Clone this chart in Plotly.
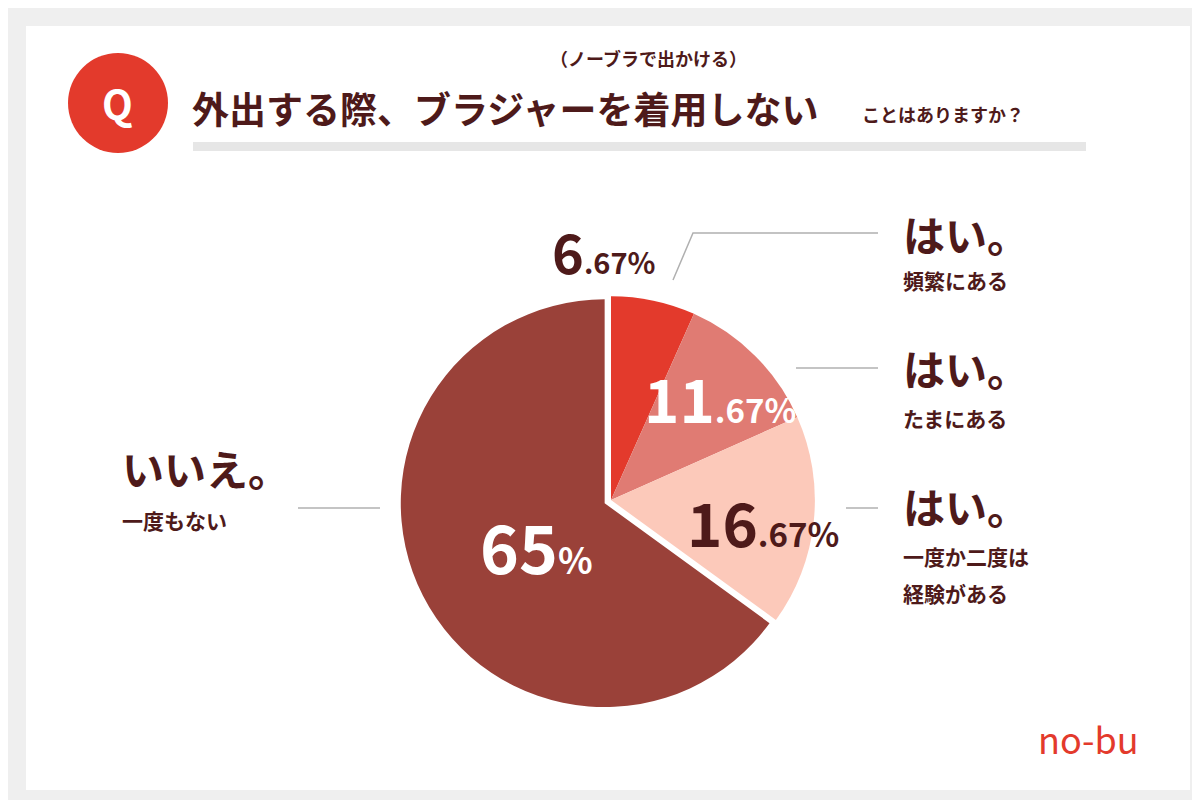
import plotly.graph_objects as go

labels = ["はい。頻繁にある", "はい。たまにある", "はい。一度か二度は経験がある", "いいえ。一度もない"]
values = [6.67, 11.67, 16.67, 65]
colors = ["#E33A2C", "#E07B73", "#FCC9BA", "#9A4139"]

F = "Noto Sans CJK JP"
DARK = "#4E1A1A"
fig = go.Figure(go.Pie(
    labels=labels, values=values, sort=False, direction="clockwise", rotation=0,
    marker=dict(colors=colors, line=dict(color="white", width=0)),
    pull=[0, 0, 0, 0.035], textinfo="none", hoverinfo="label+value",
    domain=dict(x=[(603-211)/1200, (603+211)/1200], y=[1-(492+211)/800, 1-(492-211)/800]),
    showlegend=False))

shapes = [
    dict(type="rect", xref="paper", yref="paper", x0=18/1200, x1=1182/1200, y0=1-782/800, y1=1-18/800,
         fillcolor="white", line=dict(width=0), layer="below"),
    dict(type="circle", xref="paper", yref="paper", x0=60/1200, x1=160/1200, y0=1-145/800, y1=1-45/800,
         fillcolor="#E33A2C", line=dict(width=0)),
    dict(type="rect", xref="paper", yref="paper", x0=185/1200, x1=1078/1200, y0=1-143/800, y1=1-134/800,
         fillcolor="#E6E6E6", line=dict(width=0)),
]
def L(pts):
    path = "M " + " L ".join(f"{x/1200},{1-y/800}" for x, y in pts)
    return dict(type="path", xref="paper", yref="paper", path=path, line=dict(color="#B0B0B0", width=1.5))
shapes += [L([(665, 272), (685, 225), (870, 225)]), L([(788, 360), (870, 360)]),
           L([(838, 500), (870, 500)]), L([(290, 500), (372, 500)])]

anns = []
def A(x, y, t, size, color=DARK, xa="left"):
    anns.append(dict(x=x/1200, y=1-y/800, xref="paper", yref="paper", text=t, showarrow=False,
                     xanchor=xa, yanchor="middle", font=dict(family=F, size=size, color=color)))
A(110, 95, "<b>Q</b>", 40, "white", "center")
A(182, 100, "<b>外出する際、ブラジャーを着用しない</b>", 37)
A(852, 106, "<b>ことはありますか？</b>", 18)
A(640, 50, "<b>（ノーブラで出かける）</b>", 18, xa="center")

def pct(x, y, big, small, color, size=54):
    A(x, y, f"<b>{big}<span style='font-size:{int(size*0.55)}px'>{small}</span></b>", size, color, "center")
pct(595, 243, "6", ".67%", DARK, 54)
pct(712, 388, "11", ".67%", "white", 60)
pct(755, 512, "16", ".67%", DARK, 60)
pct(528, 537, "65", "%", "white", 66)

A(893, 225, "<b>はい。</b>", 42); A(893, 272, "<b>頻繁にある</b>", 21)
A(893, 360, "<b>はい。</b>", 42); A(893, 410, "<b>たまにある</b>", 21)
A(893, 497, "<b>はい。</b>", 42); A(893, 548, "<b>一度か二度は</b>", 21); A(893, 585, "<b>経験がある</b>", 21)
A(112, 460, "<b>いいえ。</b>", 42); A(112, 512, "<b>一度もない</b>", 21)
A(1080, 730, "no-bu", 36, "#E33A2C", "center")

fig.update_layout(width=1200, height=800, margin=dict(l=0, r=0, t=0, b=0),
                  paper_bgcolor="#EFEFEF", plot_bgcolor="#EFEFEF", shapes=shapes, annotations=anns)
fig.write_html("out.html")
